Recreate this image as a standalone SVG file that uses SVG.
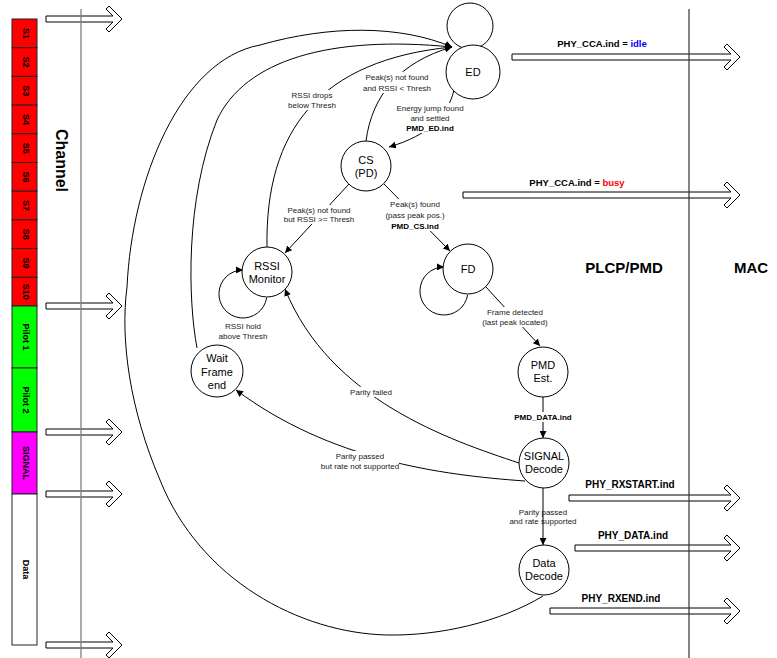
<svg xmlns="http://www.w3.org/2000/svg" width="777" height="658" viewBox="0 0 777 658">
<defs>
<marker id="ah" markerUnits="userSpaceOnUse" markerWidth="8" markerHeight="7" refX="7" refY="3.5" orient="auto">
<path d="M0,0 L7,3.5 L0,7 Z" fill="#000"/>
</marker>
<style>
text{font-family:"Liberation Sans",Arial,Helvetica,sans-serif;fill:#000}
.seg{stroke:#222;stroke-width:1}
.sl{font-size:9px;font-weight:bold;text-anchor:middle}
.harrow{fill:#fff;stroke:#000;stroke-width:1}
.node{fill:#fff;stroke:#000;stroke-width:1}
.nt{font-size:11px;text-anchor:middle}
.edge{fill:none;stroke:#000;stroke-width:1}
.bg{fill:#fff;stroke:none}
.lbl{font-size:8px;text-anchor:middle;fill:#222}
.b{font-weight:bold;fill:#000}
.sig{font-size:10px;font-weight:bold;text-anchor:middle}
.big{font-size:15px;font-weight:bold;text-anchor:middle}
</style>
</defs>
<rect width="777" height="658" fill="#fff"/>

<g id="channel">
<rect class="seg" x="12" y="19" width="25" height="28.7" fill="#ff0000"/>
<rect class="seg" x="12" y="47.7" width="25" height="28.7" fill="#ff0000"/>
<rect class="seg" x="12" y="76.4" width="25" height="28.7" fill="#ff0000"/>
<rect class="seg" x="12" y="105.1" width="25" height="28.7" fill="#ff0000"/>
<rect class="seg" x="12" y="133.8" width="25" height="28.7" fill="#ff0000"/>
<rect class="seg" x="12" y="162.5" width="25" height="28.7" fill="#ff0000"/>
<rect class="seg" x="12" y="191.2" width="25" height="28.7" fill="#ff0000"/>
<rect class="seg" x="12" y="219.9" width="25" height="28.7" fill="#ff0000"/>
<rect class="seg" x="12" y="248.6" width="25" height="28.7" fill="#ff0000"/>
<rect class="seg" x="12" y="277.3" width="25" height="28.7" fill="#ff0000"/>
<rect class="seg" x="12" y="306" width="25" height="62" fill="#00ff00"/>
<rect class="seg" x="12" y="368" width="25" height="64" fill="#00ff00"/>
<rect class="seg" x="12" y="432" width="25" height="62" fill="#ff00ff"/>
<rect class="seg" x="12" y="494" width="25" height="151" fill="#ffffff"/>
<text class="sl" transform="translate(26,33.4) rotate(90)" y="3">S1</text>
<text class="sl" transform="translate(26,62.1) rotate(90)" y="3">S2</text>
<text class="sl" transform="translate(26,90.8) rotate(90)" y="3">S3</text>
<text class="sl" transform="translate(26,119.5) rotate(90)" y="3">S4</text>
<text class="sl" transform="translate(26,148.2) rotate(90)" y="3">S5</text>
<text class="sl" transform="translate(26,176.9) rotate(90)" y="3">S6</text>
<text class="sl" transform="translate(26,205.6) rotate(90)" y="3">S7</text>
<text class="sl" transform="translate(26,234.3) rotate(90)" y="3">S8</text>
<text class="sl" transform="translate(26,263) rotate(90)" y="3">S9</text>
<text class="sl" transform="translate(26,291.7) rotate(90)" y="3">S10</text>
<text class="sl" transform="translate(26,337) rotate(90)" y="3">Pilot 1</text>
<text class="sl" transform="translate(26,400) rotate(90)" y="3">Pilot 2</text>
<text class="sl" transform="translate(26,463) rotate(90)" y="3">SIGNAL</text>
<text class="sl" transform="translate(26,569.5) rotate(90)" y="3">Data</text>
<text transform="translate(61.5,160.5) rotate(90)" y="5.5" style="font-size:16px;font-weight:bold;text-anchor:middle">Channel</text>
</g>

<g id="signal-arrows">
<path class="harrow" d="M46,16 L113,16 L106,9 L109,6 L122,19 L109,32 L106,29 L113,22 L46,22 Z"/>
<path class="harrow" d="M46,303 L113,303 L106,296 L109,293 L122,306 L109,319 L106,316 L113,309 L46,309 Z"/>
<path class="harrow" d="M46,429 L113,429 L106,422 L109,419 L122,432 L109,445 L106,442 L113,435 L46,435 Z"/>
<path class="harrow" d="M46,491 L113,491 L106,484 L109,481 L122,494 L109,507 L106,504 L113,497 L46,497 Z"/>
<path class="harrow" d="M46,642 L113,642 L106,635 L109,632 L122,645 L109,658 L106,655 L113,648 L46,648 Z"/>
<path class="harrow" d="M512,54 L731,54 L724,47 L727,44 L740,57 L727,70 L724,67 L731,60 L512,60 Z"/>
<path class="harrow" d="M463,192 L731,192 L724,185 L727,182 L740,195 L727,208 L724,205 L731,198 L463,198 Z"/>
<path class="harrow" d="M569,495 L731,495 L724,488 L727,485 L740,498 L727,511 L724,508 L731,501 L569,501 Z"/>
<path class="harrow" d="M575,545 L731,545 L724,538 L727,535 L740,548 L727,561 L724,558 L731,551 L575,551 Z"/>
<path class="harrow" d="M550,608 L731,608 L724,601 L727,598 L740,611 L727,624 L724,621 L731,614 L550,614 Z"/>
<text class="sig" x="602" y="47" style="font-size:9.5px">PHY_CCA.ind = <tspan fill="#0000ff">idle</tspan></text>
<text class="sig" x="577" y="186" style="font-size:9.5px">PHY_CCA.ind = <tspan fill="#ff0000">busy</tspan></text>
<text class="sig" x="630" y="488">PHY_RXSTART.ind</text>
<text class="sig" x="633" y="539">PHY_DATA.ind</text>
<text class="sig" x="621" y="602">PHY_RXEND.ind</text>
</g>

<g id="layers">
<line x1="81" y1="9" x2="81" y2="658" stroke="#808080" stroke-width="1.3"/>
<line x1="689" y1="9" x2="689" y2="658" stroke="#333" stroke-width="1.2"/>
<text class="big" x="624" y="273">PLCP/PMD</text>
<text class="big" x="751" y="273">MAC</text>
</g>

<g id="connectors">
<circle class="edge" cx="470" cy="26" r="23"/>
<path class="edge" marker-end="url(#ah)" d="M454,90 C448,115 430,135 389,147"/>
<path class="edge" marker-end="url(#ah)" d="M366,141 C372,95 400,62 452,47"/>
<path class="edge" marker-end="url(#ah)" d="M349,184 L285,253"/>
<path class="edge" marker-end="url(#ah)" d="M384,184 L450,251"/>
<path class="edge" marker-end="url(#ah)" d="M486,287 L540,346"/>
<path class="edge" marker-end="url(#ah)" d="M543,397 L543,438"/>
<path class="edge" marker-end="url(#ah)" d="M519,463 C450,440 330,400 285,289"/>
<path class="edge" marker-end="url(#ah)" d="M525,481 C440,475 330,460 236,390"/>
<path class="edge" marker-end="url(#ah)" d="M267,247 C265,130 320,60 452,47"/>
<path class="edge" marker-end="url(#ah)" d="M197,348 C188,300 185,200 217,120 C245,60 330,35 452,47"/>
<path class="edge" marker-end="url(#ah)" d="M543,596 C500,622 440,636 387,635 C300,633 200,580 160,480 C130,410 120,340 127,287 C132,180 180,60 260,45 C330,25 400,25 452,47"/>
<path class="edge" marker-end="url(#ah)" d="M266.6,298 A24,24 0 1 1 243,270"/>
<path class="edge" marker-end="url(#ah)" d="M467.6,295 A24,24 0 1 1 444,267"/>
<rect class="bg" x="395" y="103" width="70" height="30"/>
<rect class="bg" x="363" y="72" width="68" height="21"/>
<rect class="bg" x="288" y="90" width="48" height="20"/>
<rect class="bg" x="284" y="205" width="70" height="19"/>
<rect class="bg" x="385" y="199" width="60" height="32"/>
<rect class="bg" x="482" y="307" width="66" height="20"/>
<rect class="bg" x="514" y="412" width="58" height="10"/>
<rect class="bg" x="350" y="387" width="42" height="10"/>
<rect class="bg" x="321" y="451" width="78" height="20"/>
<text class="lbl" x="430" y="111">Energy jump found</text>
<text class="lbl" x="430" y="121">and settled</text>
<text class="lbl b" x="430" y="131">PMD_ED.ind</text>
<text class="lbl" x="397" y="80">Peak(s) not found</text>
<text class="lbl" x="397" y="91">and RSSI &lt; Thresh</text>
<text class="lbl" x="312" y="98">RSSI drops</text>
<text class="lbl" x="312" y="108">below Thresh</text>
<text class="lbl" x="319" y="213">Peak(s) not found</text>
<text class="lbl" x="319" y="222">but RSSI &gt;= Thresh</text>
<text class="lbl" x="415" y="207">Peak(s) found</text>
<text class="lbl" x="415" y="218">(pass peak pos.)</text>
<text class="lbl b" x="415" y="229">PMD_CS.ind</text>
<text class="lbl" x="515" y="315">Frame detected</text>
<text class="lbl" x="515" y="325">(last peak located)</text>
<text class="lbl b" x="543" y="420">PMD_DATA.ind</text>
<text class="lbl" x="371" y="395">Parity failed</text>
<text class="lbl" x="360" y="459">Parity passed</text>
<text class="lbl" x="360" y="469">but rate not supported</text>
<text class="lbl" x="243" y="329">RSSI hold</text>
<text class="lbl" x="243" y="339">above Thresh</text>
<text class="lbl" x="543" y="515">Parity passed</text>
<text class="lbl" x="543" y="524">and rate supported</text>
<path class="edge" marker-end="url(#ah)" d="M543,488 L543,545"/>
</g>

<g id="node-ed">
<circle class="node" cx="473" cy="72" r="27"/>
<text class="nt" x="473" y="76">ED</text>
</g>
<g id="node-cs">
<circle class="node" cx="366" cy="166" r="25"/>
<text class="nt" x="366" y="164">CS</text>
<text class="nt" x="366" y="177">(PD)</text>
</g>
<g id="node-rssi">
<circle class="node" cx="267" cy="272" r="25"/>
<text class="nt" x="267" y="269.5">RSSI</text>
<text class="nt" x="267" y="282.5">Monitor</text>
</g>
<g id="node-fd">
<circle class="node" cx="468" cy="269" r="25"/>
<text class="nt" x="468" y="273">FD</text>
</g>
<g id="node-wait">
<circle class="node" cx="217" cy="371" r="26"/>
<text class="nt" x="217" y="362">Wait</text>
<text class="nt" x="217" y="376">Frame</text>
<text class="nt" x="217" y="389">end</text>
</g>
<g id="node-pmd">
<circle class="node" cx="543" cy="372" r="25"/>
<text class="nt" x="543" y="369">PMD</text>
<text class="nt" x="543" y="382">Est.</text>
</g>
<g id="node-signal">
<circle class="node" cx="544" cy="463" r="25"/>
<text class="nt" x="544" y="460">SIGNAL</text>
<text class="nt" x="544" y="473">Decode</text>
</g>
<g id="node-data">
<circle class="node" cx="544" cy="570" r="25"/>
<text class="nt" x="544" y="567">Data</text>
<text class="nt" x="544" y="580">Decode</text>
</g>
</svg>
